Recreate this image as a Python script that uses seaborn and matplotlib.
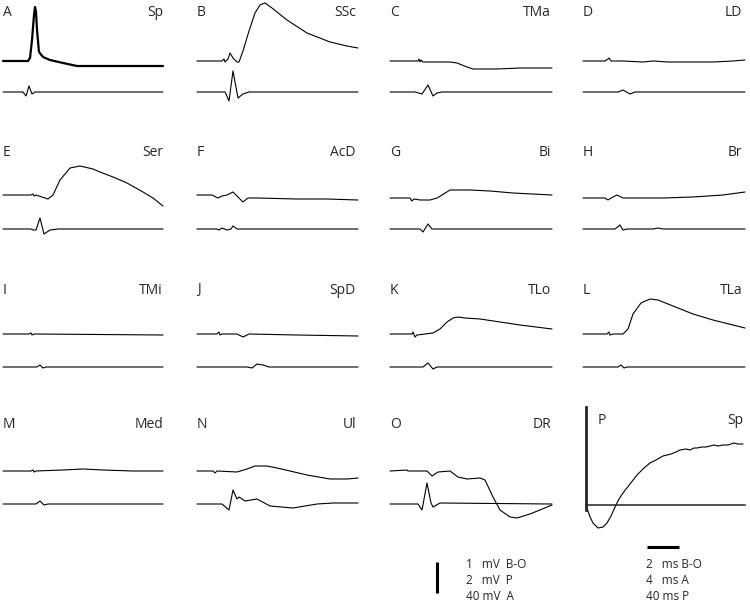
#%%
import matplotlib
matplotlib.use('Agg')
import pandas as pd
import matplotlib.pyplot as plt
import seaborn as sns

sns.set_style('white')
plt.rcParams['font.family'] = ['Open Sans', 'DejaVu Sans']

# %%
# traces: t = samples from trace start, v = height above baseline
a_up_t = [0, 25, 27, 29, 31, 32, 33, 34, 36, 40, 47, 60, 74, 90, 160]
a_up_v = [0, 0, 3, 21, 46, 54, 49, 31, 9, 4, 1, -2, -5, -5, -5]
a_lo_t = [0, 20, 23, 26, 29, 32, 160]
a_lo_v = [0, 0, -4, 6, -2, 0, 0]

b_up_t = [0, 25, 27, 28, 31, 33, 36, 40, 42, 46, 52, 58, 63, 68, 75, 90, 110, 133, 150, 161]
b_up_v = [0, 0, 2, -1, 2, 8, 3, -1, -1, 10, 30, 48, 56, 58, 53, 41, 28, 19, 15, 13]
b_lo_t = [0, 28, 29, 32, 36, 41, 46, 52, 161]
b_lo_v = [0, 0, -2, -9, 21, -6, -2, 0, 0]

c_up_t = [0, 28, 29, 30, 31, 33, 52, 60, 67, 77, 83, 107, 130, 150, 162]
c_up_v = [0, 0, 2, -1, 1, -1, -1, -1, -2, -6, -8, -8, -7, -7, -7]
c_lo_t = [0, 25, 32, 38, 43, 47, 52, 162]
c_lo_v = [0, 0, -2, 7, -4, -1, 0, 0]

d_up_t = [0, 22, 25, 26, 28, 40, 60, 70, 85, 100, 130, 150, 162]
d_up_v = [0, 0, 2, 3, 0, 0, -1, 0, -1, -1, -1, 0, 1]
d_lo_t = [0, 35, 40, 47, 52, 162]
d_lo_v = [0, 0, 2, -2, 0, 0]

e_up_t = [0, 28, 30, 31, 33, 45, 50, 57, 67, 77, 90, 97, 110, 124, 140, 150, 160]
e_up_v = [1, 1, 2, 0, 1, -3, 1, 16, 28, 30, 27, 24, 19, 13, 4, -2, -10]
e_lo_t = [0, 28, 30, 33, 37, 41, 47, 55, 160]
e_lo_v = [0, 0, -1, -1, 11, -5, -1, 0, 0]

f_up_t = [0, 15, 21, 25, 30, 36, 41, 46, 51, 60, 100, 130, 161]
f_up_v = [1, 1, -2, 0, 1, 4, -1, -6, -2, -2, -3, -3, -4]
f_lo_t = [0, 20, 22, 25, 30, 34, 36, 40, 161]
f_lo_v = [0, 0, -1, 1, -1, 0, 3, 0, 0]

g_up_t = [0, 20, 22, 24, 30, 40, 47, 52, 60, 80, 100, 123, 162]
g_up_v = [-2, -2, -5, -3, -4, -4, -2, 1, 6, 6, 5, 3, 1]
g_lo_t = [0, 30, 33, 38, 42, 162]
g_lo_v = [0, 0, -3, 5, 0, 0]

h_up_t = [0, 22, 25, 28, 34, 40, 80, 110, 140, 162]
h_up_v = [-2, -2, -4, -2, 1, -2, -2, -1, 1, 4]
h_lo_t = [0, 32, 37, 40, 44, 70, 75, 80, 162]
h_lo_v = [0, 0, 4, -1, 0, 0, 1, 0, 0]

i_up_t = [0, 26, 28, 29, 31, 160]
i_up_v = [0, 0, 1, -1, 0, -1]
i_lo_t = [0, 34, 37, 40, 43, 160]
i_lo_v = [0, 0, 2, -1, 0, 0]

j_up_t = [0, 20, 22, 23, 25, 40, 46, 52, 100, 161]
j_up_v = [0, 0, 2, -1, 0, 0, -3, 0, -1, -2]
j_lo_t = [0, 50, 55, 60, 66, 72, 161]
j_lo_v = [0, 0, -1, 3, 2, 0, 0]

k_up_t = [0, 22, 23, 25, 27, 35, 43, 50, 57, 63, 68, 75, 90, 110, 130, 162]
k_up_v = [0, 0, 2, -3, -1, 0, 1, 5, 12, 16, 17, 16, 15, 12, 9, 5]
k_lo_t = [0, 33, 38, 43, 47, 162]
k_lo_v = [0, 0, 4, -2, 0, 0]

l_up_t = [0, 24, 26, 27, 30, 40, 45, 50, 58, 67, 75, 90, 110, 130, 150, 162]
l_up_v = [0, 0, 2, -1, 0, 0, 5, 20, 31, 35, 34, 28, 20, 14, 9, 6]
l_lo_t = [0, 35, 38, 41, 44, 162]
l_lo_v = [0, 0, 2, -1, 0, 0]

m_up_t = [0, 28, 30, 31, 33, 60, 80, 100, 130, 160]
m_up_v = [0, 0, 1, -1, 0, 1, 2, 1, 0, 0]
m_lo_t = [0, 33, 37, 41, 45, 160]
m_lo_v = [0, 0, 3, -1, 0, 0]

n_up_t = [0, 16, 18, 20, 40, 50, 58, 70, 80, 93, 110, 133, 150, 161]
n_up_v = [0, 0, -2, 0, -1, 2, 5, 5, 3, 0, -4, -8, -8, -7]
n_lo_t = [0, 25, 32, 36, 40, 42, 48, 60, 73, 96, 120, 136, 161]
n_lo_v = [0, 0, -6, 14, 5, 7, 3, 5, -2, -4, 0, 1, 1]

o_up_t = [0, 17, 18, 37, 42, 48, 60, 68, 77, 90, 95, 103, 110, 120, 127, 140, 162]
o_up_v = [0, 1, 0, 0, -5, -1, 0, -6, -8, -7, -9, -26, -39, -46, -47, -43, -34]
o_lo_t = [0, 28, 32, 37, 41, 43, 50, 162]
o_lo_v = [0, 0, -6, 21, 1, -3, 1, 0]

p_t = [0, 2, 4, 7, 12, 17, 21, 25, 29, 33, 37, 44, 51, 58, 64, 70, 77, 85, 90, 94,
       100, 104, 108, 111, 116, 120, 124, 128, 132, 137, 142, 148, 152, 157]
p_v = [0, -6, -12, -18, -23, -22, -18, -11, -2, 6, 12, 21, 30, 37, 42, 45, 49, 51, 53, 55,
       56, 55, 57, 57, 58, 58, 59, 60, 59, 60, 60, 62, 61, 61]

letters = list('ABCDEFGHIJKLMNO')
names = ['Sp', 'SSc', 'TMa', 'LD', 'Ser', 'AcD', 'Bi', 'Br',
         'TMi', 'SpD', 'TLo', 'TLa', 'Med', 'Ul', 'DR']
upper = [(a_up_t, a_up_v), (b_up_t, b_up_v), (c_up_t, c_up_v), (d_up_t, d_up_v),
         (e_up_t, e_up_v), (f_up_t, f_up_v), (g_up_t, g_up_v), (h_up_t, h_up_v),
         (i_up_t, i_up_v), (j_up_t, j_up_v), (k_up_t, k_up_v), (l_up_t, l_up_v),
         (m_up_t, m_up_v), (n_up_t, n_up_v), (o_up_t, o_up_v)]
lower = [(a_lo_t, a_lo_v), (b_lo_t, b_lo_v), (c_lo_t, c_lo_v), (d_lo_t, d_lo_v),
         (e_lo_t, e_lo_v), (f_lo_t, f_lo_v), (g_lo_t, g_lo_v), (h_lo_t, h_lo_v),
         (i_lo_t, i_lo_v), (j_lo_t, j_lo_v), (k_lo_t, k_lo_v), (l_lo_t, l_lo_v),
         (m_lo_t, m_lo_v), (n_lo_t, n_lo_v), (o_lo_t, o_lo_v)]

scale_v = ['1   mV  B-O', '2   mV  P', '40 mV  A']
scale_h = ['2   ms B-O', '4   ms A', '40 ms P']

# %%
# layout in pixels
W, H = 750, 603
col_x = [3, 197, 390, 583]
name_r = [163, 356, 551, 742]
row_base = [61, 196, 334, 471]
row_low = [92, 229, 367, 504]
row_lab = [12, 152, 290, 424]


def px_axes(fig, x0, y0, x1, y1):
    ax = fig.add_axes([x0 / W, 1 - y1 / H, (x1 - x0) / W, (y1 - y0) / H])
    ax.set_axis_off()
    return ax


def trace(ax, t, v, off=0, lw=0.8):
    df = pd.DataFrame({'t': t, 'v': [x + off for x in v]})
    sns.lineplot(data=df, x='t', y='v', ax=ax, color='black', lw=lw,
                 estimator=None, sort=False, clip_on=False)


fig = plt.figure(figsize=(7.5, 6.03), dpi=100)

for i in range(15):
    r, c = divmod(i, 4)
    x0 = col_x[c]
    base = row_base[r]
    ax = px_axes(fig, x0 - 3, row_lab[r] - 10, x0 + 167, row_low[r] + 20)
    ax.set_xlim(-3, 167)
    ax.set_ylim(base - (row_low[r] + 20), base - (row_lab[r] - 10))
    trace(ax, *upper[i], lw=1.6 if i == 0 else 0.8)
    trace(ax, *lower[i], off=base - row_low[r], lw=0.8)
    fig.text(x0 / W, 1 - row_lab[r] / H, letters[i], ha='left', va='center', fontsize=10)
    fig.text(name_r[c] / W, 1 - row_lab[r] / H, names[i], ha='right', va='center', fontsize=10)

# %%
# panel P
px0, pbase = 586, 505
ax = px_axes(fig, 560, 400, 750, 540)
ax.set_axis_on()
ax.set_xlim(-26, 164)
ax.set_ylim(pbase - 540, pbase - 400)
trace(ax, p_t, p_v, lw=0.8)
for s in ['top', 'right']:
    ax.spines[s].set_visible(False)
ax.spines['left'].set_position(('data', 0))
ax.spines['left'].set_bounds(-5, 98)
ax.spines['left'].set_linewidth(2)
ax.spines['bottom'].set_position(('data', 0))
ax.spines['bottom'].set_bounds(0, 159)
ax.spines['bottom'].set_linewidth(1.1)
ax.set_xticks([])
ax.set_yticks([])
ax.set_xlabel('')
ax.set_ylabel('')
fig.text(598 / W, 1 - 420 / H, 'P', ha='left', va='center', fontsize=10)
fig.text(743 / W, 1 - 420 / H, 'Sp', ha='right', va='center', fontsize=10)

# %%
# scale bars
sc = px_axes(fig, 380, 535, 750, 603)
sc.set_xlim(380, 750)
sc.set_ylim(603, 535)
sc.plot([437, 437], [562, 593], color='black', lw=2.2, solid_capstyle='butt')
sc.plot([647, 679], [547, 547], color='black', lw=2.2, solid_capstyle='butt')
for k, y in enumerate([564, 580, 596]):
    fig.text(466 / W, 1 - y / H, scale_v[k], ha='left', va='center', fontsize=8.5)
    fig.text(646 / W, 1 - y / H, scale_h[k], ha='left', va='center', fontsize=8.5)

fig.savefig('out.png', dpi=100, facecolor='white')
